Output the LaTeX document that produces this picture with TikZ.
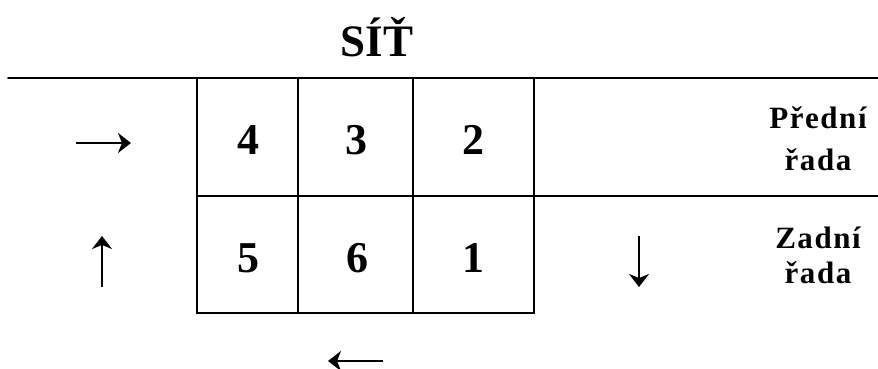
\documentclass[tikz,border=0pt]{standalone}
\usepackage{fontspec}
\setmainfont{Liberation Serif}
\newfontfamily\rowfont{Liberation Serif}[LetterSpace=5]
\usetikzlibrary{arrows.meta}

\begin{document}
\begin{tikzpicture}[
    x=1pt, y=-1pt,
    grid/.style={line width=1.6pt, line cap=round},
    arrow/.style={line width=2.2pt, -{Stealth[length=13pt, width=20pt, inset=4pt]}},
    number/.style={anchor=base, font=\fontsize{44}{44}\selectfont\bfseries},
    row/.style={anchor=base, align=center, inner sep=0pt,
        font=\rowfont\fontsize{31}{35}\selectfont\bfseries},
    every node/.style={inner sep=0pt}
]
\useasboundingbox (0,0) rectangle (878,369);

% Title
\node[anchor=base, font=\fontsize{45}{45}\selectfont\bfseries] (title) at (377,57) {SÍŤ};

% Net and grid
\draw[grid] (8,78) -- (878,78);
\draw[grid] (197,196) -- (878,196);
\draw[grid] (197,78) -- (197,313) -- (534,313) -- (534,78);
\draw[grid] (298,78) -- (298,313);
\draw[grid] (413,78) -- (413,313);

% Positions
\node[number] (p4) at (248,154) {4};
\node[number] (p3) at (356,154) {3};
\node[number] (p2) at (473,154) {2};
\node[number] (p5) at (248,272) {5};
\node[number] (p6) at (357,272) {6};
\node[number] (p1) at (473,272) {1};

% Rows (base = last line)
\node[row] (front) at (818,170) {Přední\\[7pt]řada};
\node[row] (back) at (818,283) {Zadní\\řada};

% Rotation
\coordinate (rs) at (76,143);  \coordinate (re) at (131,143);
\coordinate (us) at (102,287); \coordinate (ue) at (102,236);
\coordinate (ds) at (639,236); \coordinate (de) at (639,287);
\coordinate (ls) at (383,361); \coordinate (le) at (328,361);
\draw[arrow] (rs) -- (re);
\draw[arrow] (us) -- (ue);
\draw[arrow] (ds) -- (de);
\draw[arrow] (ls) -- (le);

\end{tikzpicture}
\end{document}
